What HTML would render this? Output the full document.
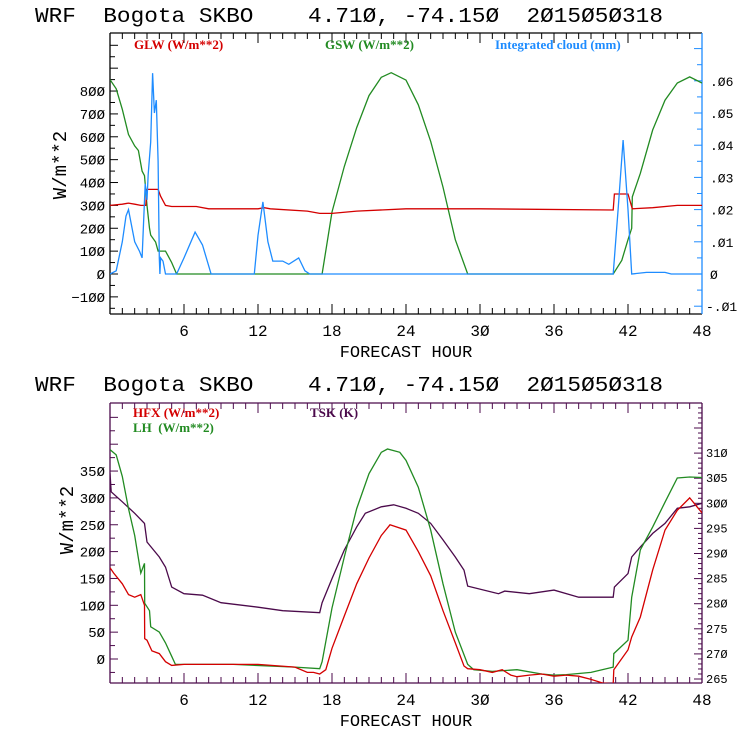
<!DOCTYPE html>
<html><head><meta charset="utf-8"><style>
html,body{margin:0;padding:0;background:#fff;}
svg text{font-family:"Liberation Mono","DejaVu Sans Mono",monospace;white-space:pre;}
.leg{font-family:"Liberation Serif",serif;font-weight:bold;font-size:13px;}
</style></head><body>
<svg id="c" width="740" height="740" viewBox="0 0 740 740"></svg>
<script>
// ---- data (hour, value) ----
const gswHours=[0,0.5,1,1.5,2,2.3,2.6,2.8,3,3.2,3.3,3.7,3.9,4.5,4.7,5,5.4,17.2,18,19,20,21,22,22.8,24,25,26,27,28,29,40.8,41.5,42,42.3,42.35,43,44,45,46,47,48];
const gswVals=[850,810,720,610,560,540,450,430,300,200,170,140,100,100,80,50,0,0,271,470,640,780,860,880,848,740,580,380,150,0,0,60,150,200,337,440,630,760,835,862,835];
const glwHours=[0,1,1.5,2,2.5,2.9,3.0,3.9,4.1,4.5,5,7,8,12,12.5,13,16,17,18,20,24,30,40.8,40.9,42,42.35,44,46,48];
const glwVals=[300,305,310,305,300,300,370,370,340,300,295,295,285,285,290,285,275,265,265,275,285,285,280,350,350,285,290,300,300];
const cloudHours=[0,0.5,1,1.3,1.5,1.8,2,2.4,2.6,2.7,2.85,3,3.1,3.3,3.45,3.6,3.75,3.9,4,4.05,4.1,4.3,4.5,5.4,6,6.9,7.5,8.2,11.7,12,12.4,12.8,13.2,14,14.5,15.3,15.8,16.2,40.8,41.2,41.6,42,42.3,43.5,45,45.5,48];
const cloudVals=[0,0.001,0.01,0.018,0.020,0.014,0.010,0.007,0.005,0.014,0.028,0.023,0.031,0.041,0.0624,0.05,0.054,0.035,0.005,0,0.005,0.004,0,0,0.005,0.013,0.009,0,0,0.012,0.0224,0.01,0.004,0.004,0.003,0.005,0.001,0,0,0.02,0.0416,0.02,0,0.0005,0.0005,0,0];
const lhHours=[0,0.5,1,1.5,2,2.5,2.8,2.81,3.2,3.3,4,4.5,5,5.3,10,15,17,17.2,18,19,20,21,22,22.5,23.5,24,25,26,27,28,29,29.5,31,33,35,36,37,38,39,40.8,40.85,42,42.3,43,44,45,46,47,48];
const lhVals=[390,380,340,280,230,160,178,104,90,60,50,30,5,-10,-10,-15,-18,-5,95,190,280,345,385,391,385,370,320,240,140,50,-10,-20,-23,-20,-28,-30,-29,-27,-25,-15,10,35,115,203,246,292,337,339,338];
const hfxHours=[0,0.3,1,1.5,2,2.5,2.8,2.81,3,3.4,4,4.5,5,6,12,15,16,16.5,17,17.5,18,19,20,21,22,22.7,24,25,26,27,28,28.7,29,30,31,31.8,32.5,33,34,35,36,37,38,39,40,40.8,40.85,41,42,42.3,43,44,45,46,47,48];
const hfxVals=[170,160,140,120,115,120,100,38,35,15,10,-5,-12,-10,-10,-15,-25,-25,-28,-20,20,80,140,188,230,250,240,200,155,90,30,-13,-18,-20,-25,-20,-30,-33,-30,-28,-32,-30,-32,-38,-45,-46,-20,-15,17,41,78,166,240,277,300,272];
const tskHours=[0,0.1,1,2,2.8,3,4,4.5,5,6,7.5,9,12,14,17,17.2,18,19,20,20.7,22,23,24,25,26,27,28,28.7,29,31.5,32,34,36,38,40.8,40.9,42,42.3,43,44,45,46,47,48];
const tskVals=[306,302.3,300.3,298,296,292.3,289.3,287.3,283.3,282,281.7,280.2,279.3,278.6,278.2,280.2,285,290.7,295.3,298,299.3,299.7,299,298,296,292.7,289.3,286.7,283.5,282,282.5,282,282.7,281.3,281.3,283.3,286,289.3,291.3,294,296,299,299.3,300];
const xTicks=[6,12,18,24,30,36,42,48];
const topLeftTicks=[-100,0,100,200,300,400,500,600,700,800];
const topRightTicks=[-0.01,0,0.01,0.02,0.03,0.04,0.05,0.06];
const botLeftTicks=[0,50,100,150,200,250,300,350];
const botRightTicks=[265,270,275,280,285,290,295,300,305,310];

const NS='http://www.w3.org/2000/svg';
const svg=document.getElementById('c');
function mk(tag,attrs,parent,txt){const e=document.createElementNS(NS,tag);for(const k in attrs)e.setAttribute(k,attrs[k]);if(txt!==undefined)e.textContent=txt;(parent||svg).appendChild(e);return e;}
const X0=110,X1=702;
const xs=h=>X0+(X1-X0)*h/48;
const T={top:33,bot:314};
const yT=v=>274-v*0.2287;
const yTr=v=>274-v*3220;
const B={top:403,bot:683};
const yB=v=>659-v*0.537;
const yBr=v=>679-(v-265)*5.02;

function line(hours,vals,xf,yf,color,name,clipId){
  let d='';hours.forEach((h,i)=>{d+=(i?'L':'M')+xf(h).toFixed(1)+' '+yf(vals[i]).toFixed(1);});
  const p=mk('path',{d:d,fill:'none',stroke:color,'stroke-width':1.3,'clip-path':'url(#'+clipId+')'});
  
  
}
const defs=mk('defs',{});
const c1=mk('clipPath',{id:'clipT'},defs);mk('rect',{x:X0,y:T.top,width:X1-X0,height:T.bot-T.top},c1);
const c2=mk('clipPath',{id:'clipB'},defs);mk('rect',{x:X0,y:B.top,width:X1-X0,height:B.bot-B.top},c2);

function title(y,name){
  const t=mk('text',{x:35,y:y,'font-size':21,textLength:628,lengthAdjust:'spacingAndGlyphs','xml:space':'preserve'},svg,'WRF  Bogota SKBO    4.710, -74.150  2015050318'.replace(/0/g,'Ø'));
  
}
function frame(P,leftColor,rightColor,name){
  const g=mk('g',{});
  mk('line',{x1:X0,y1:P.top,x2:X1,y2:P.top,stroke:leftColor,'stroke-width':1.3},g);
  mk('line',{x1:X0,y1:P.bot,x2:X1,y2:P.bot,stroke:leftColor,'stroke-width':1.3},g);
  mk('line',{x1:X0,y1:P.top,x2:X0,y2:P.bot,stroke:leftColor,'stroke-width':1.3},g);
  mk('line',{x1:X1,y1:P.top,x2:X1,y2:P.bot,stroke:rightColor,'stroke-width':1.3},g);
  for(let h=1;h<48;h++){const L=h%6===0?10:6;const x=xs(h);
    mk('line',{x1:x,y1:P.top,x2:x,y2:P.top+L,stroke:leftColor},g);
    mk('line',{x1:x,y1:P.bot,x2:x,y2:P.bot-L,stroke:leftColor},g);}
  xTicks.forEach(h=>{const t=mk('text',{x:xs(h),y:P.bot+22,'font-size':16,'text-anchor':'middle'},g,String(h).replace(/0/g,'Ø'));
    });
  const xl=mk('text',{x:406,y:P.bot+43,'font-size':17,'text-anchor':'middle'},g,'FORECAST HOUR');
  
}
function fmt(s){return s.replace(/0/g,'Ø');}

// ===== TOP PANEL =====
title(22,'top-title');
frame(T,'#000','#1e8cff','top-frame');
for(let v=-150;v<=1000;v+=50){const y=yT(v);if(y<T.top||y>T.bot)continue;const L=v%100===0?8:5;
  mk('line',{x1:X0,y1:y,x2:X0+L,y2:y,stroke:'#000'});}
topLeftTicks.forEach(v=>{const t=mk('text',{x:105,y:yT(v)+5,'font-size':14,'text-anchor':'end'},svg,fmt(v<0?'−'+(-v):String(v)));
  });
for(let i=-3;i<=14;i++){const v=i*0.005;const y=yTr(v);if(y<T.top||y>T.bot)continue;const L=i%2===0?8:5;
  mk('line',{x1:X1,y1:y,x2:X1-L,y2:y,stroke:'#1e8cff'});}
topRightTicks.forEach(v=>{let s=v===0?'0':(v<0?'-':'')+'.'+String(Math.round(Math.abs(v)*100)).padStart(2,'0');
  const t=mk('text',{x:v<0?706:710,y:yTr(v)+5,'font-size':13},svg,fmt(s));
  });
let yl=mk('text',{x:0,y:0,'font-size':19,'text-anchor':'middle',transform:'translate(66,165) rotate(-90)'},svg,'W/m**2');

line(gswHours,gswVals,xs,yT,'#228b22','gsw-line','clipT');
line(glwHours,glwVals,xs,yT,'#d40000','glw-line','clipT');
line(cloudHours,cloudVals,xs,yTr,'#1e8cff','cloud-line','clipT');
let l;
l=mk('text',{x:134,y:49,fill:'#d40000',class:'leg'},svg,'GLW (W/m**2)');
l=mk('text',{x:325,y:49,fill:'#228b22',class:'leg'},svg,'GSW (W/m**2)');
l=mk('text',{x:495,y:49,fill:'#1e8cff',class:'leg'},svg,'Integrated cloud (mm)');

// ===== BOTTOM PANEL =====
title(391,'bottom-title');
frame(B,'#4b0a4b','#4b0a4b','bottom-frame');
for(let v=-50;v<=450;v+=25){const y=yB(v);if(y<B.top||y>B.bot)continue;const L=v%50===0?8:5;
  mk('line',{x1:X0,y1:y,x2:X0+L,y2:y,stroke:'#4b0a4b'});}
botLeftTicks.forEach(v=>{const t=mk('text',{x:105,y:yB(v)+5,'font-size':14,'text-anchor':'end'},svg,fmt(String(v)));
  });
for(let v=260;v<=320;v++){const y=yBr(v);if(y<B.top||y>B.bot)continue;const L=v%5===0?8:4;
  mk('line',{x1:X1,y1:y,x2:X1-L,y2:y,stroke:'#4b0a4b'});}
botRightTicks.forEach(v=>{const t=mk('text',{x:706,y:yBr(v)+4,'font-size':12},svg,fmt(String(v)));
  });
yl=mk('text',{x:0,y:0,'font-size':19,'text-anchor':'middle',transform:'translate(73,520) rotate(-90)'},svg,'W/m**2');

line(tskHours,tskVals,xs,yBr,'#4b0a4b','tsk-line','clipB');
line(lhHours,lhVals,xs,yB,'#228b22','lh-line','clipB');
line(hfxHours,hfxVals,xs,yB,'#d40000','hfx-line','clipB');
l=mk('text',{x:133,y:417,fill:'#d40000',class:'leg'},svg,'HFX (W/m**2)');
l=mk('text',{x:133,y:432,fill:'#228b22',class:'leg','xml:space':'preserve'},svg,'LH  (W/m**2)');
l=mk('text',{x:310,y:417,fill:'#4b0a4b',class:'leg'},svg,'TSK (K)');
</script>
</body></html>
